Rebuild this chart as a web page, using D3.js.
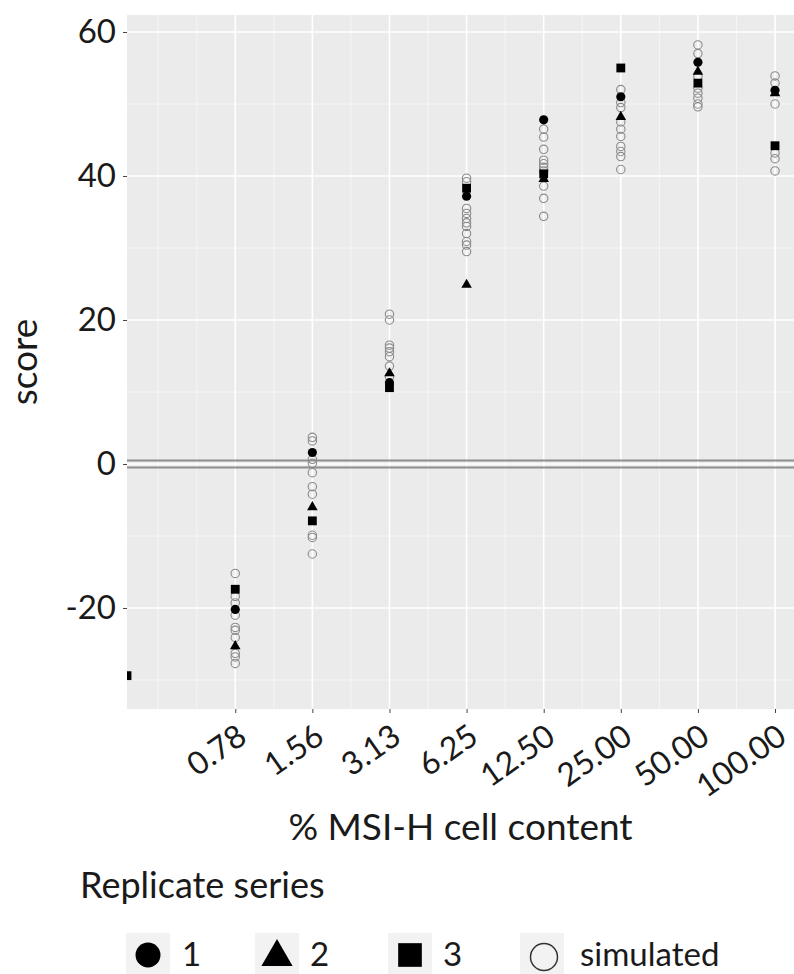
<!DOCTYPE html>
<html>
<head>
<meta charset="utf-8">
<script src="https://cdn.jsdelivr.net/npm/d3@7"></script>
<style>
  body { margin: 0; background: #fff; }
  svg { display: block; }
  text { font-family: Lato, "Open Sans", sans-serif; fill: #1a1a1a; }
</style>
</head>
<body>
<svg id="chart" width="794" height="974"></svg>
<script>
// % MSI-H cell content (x categories, plotted on log2 scale)
const pctLabels = ["0.78", "1.56", "3.13", "6.25", "12.50", "25.00", "50.00", "100.00"];
const pctValues = [0.78125, 1.5625, 3.125, 6.25, 12.5, 25, 50, 100];

// replicate series scores, one per dilution
const rep1 = [-20.2, 1.6, 11.3, 37.2, 47.8, 51.0, 55.8, 51.9];
const rep2 = [-25.3, -6.0, 12.6, 24.9, 39.6, 48.2, 54.5, 51.5];
const rep3 = [-17.4, -7.9, 10.6, 38.3, 40.3, 55.0, 52.9, 44.2];

// 0 % control, only replicate 3 is visible at the left edge
const controlRep3 = -29.4;

// simulated scores per dilution
const simulated = [
  [-15.2, -18.4, -19.3, -21.0, -22.7, -23.1, -24.1, -26.3, -26.8, -27.7],
  [3.7, 3.2, 0.65, 0.1, -1.2, -3.15, -4.2, -9.9, -10.2, -12.5],
  [20.8, 20.0, 16.5, 16.1, 15.6, 14.9, 13.6, 12.1],
  [39.7, 39.2, 35.5, 34.8, 34.1, 33.5, 33.0, 32.0, 30.9, 30.4, 29.5],
  [46.5, 45.4, 43.7, 42.2, 41.7, 41.2, 40.7, 38.6, 36.9, 34.4],
  [52.0, 50.2, 49.5, 47.5, 46.5, 45.5, 44.1, 43.4, 42.7, 40.9],
  [58.2, 57.0, 53.8, 52.2, 51.5, 50.8, 50.0, 49.6],
  [53.9, 52.9, 50.0, 43.2, 42.4, 40.7]
];

const yTicks = [-20, 0, 20, 40, 60];
const yMinor = [-30, -10, 10, 30, 50];
const refLines = [0.5, -0.5];

const legendItems = ["1", "2", "3", "simulated"];

const svg = d3.select("#chart");
const panel = { left: 127, top: 15, right: 794, bottom: 709 };

const lx = pctValues.map(v => Math.log2(v));
const x = d3.scaleLinear().domain([-1.76, 6.89]).range([panel.left, panel.right]);
const y = d3.scaleLinear().domain([-34.03, 62.36]).range([panel.bottom, panel.top]);

svg.append("defs").append("clipPath").attr("id", "panel-clip")
  .append("rect")
  .attr("x", panel.left).attr("y", panel.top)
  .attr("width", panel.right - panel.left).attr("height", panel.bottom - panel.top);

svg.append("rect")
  .attr("x", panel.left).attr("y", panel.top)
  .attr("width", panel.right - panel.left).attr("height", panel.bottom - panel.top)
  .attr("fill", "#ebebeb");

// grid: minor first, like ggplot
const xMinor = d3.range(-1, lx.length).map(i => lx[0] + i + 0.5)
  .concat([lx[0] - 1]).filter(v => v >= x.domain()[0] && v <= x.domain()[1]);

const grid = svg.append("g").attr("clip-path", "url(#panel-clip)");
grid.selectAll(".xminor").data(xMinor).join("line")
  .attr("x1", d => x(d)).attr("x2", d => x(d))
  .attr("y1", panel.top).attr("y2", panel.bottom)
  .attr("stroke", "#f6f6f6").attr("stroke-width", 1);
grid.selectAll(".yminor").data(yMinor).join("line")
  .attr("y1", d => y(d)).attr("y2", d => y(d))
  .attr("x1", panel.left).attr("x2", panel.right)
  .attr("stroke", "#f6f6f6").attr("stroke-width", 1);
grid.selectAll(".xmajor").data(lx).join("line")
  .attr("x1", d => x(d)).attr("x2", d => x(d))
  .attr("y1", panel.top).attr("y2", panel.bottom)
  .attr("stroke", "#ffffff").attr("stroke-width", 1.6);
grid.selectAll(".ymajor").data(yTicks).join("line")
  .attr("y1", d => y(d)).attr("y2", d => y(d))
  .attr("x1", panel.left).attr("x2", panel.right)
  .attr("stroke", "#ffffff").attr("stroke-width", 1.6);

// double reference line around zero
grid.selectAll(".ref").data(refLines).join("line")
  .attr("y1", d => y(d)).attr("y2", d => y(d))
  .attr("x1", panel.left).attr("x2", panel.right)
  .attr("stroke", "#8e8e8e").attr("stroke-width", 2);

// axes
const yAxis = svg.append("g")
  .attr("transform", `translate(${panel.left},0)`)
  .call(d3.axisLeft(y).tickValues(yTicks).tickSize(4).tickPadding(7)
    .tickFormat(d => String(d)));
yAxis.select(".domain").remove();
yAxis.selectAll(".tick line").attr("stroke", "#444");
yAxis.selectAll(".tick text").style("font-size", "33px").attr("fill", "#1a1a1a");

const xAxis = svg.append("g")
  .attr("transform", `translate(0,${panel.bottom})`)
  .call(d3.axisBottom(x).tickValues(lx).tickSize(4).tickFormat((d, i) => pctLabels[i]));
xAxis.select(".domain").remove();
xAxis.selectAll(".tick line").attr("stroke", "#444");
xAxis.selectAll(".tick text")
  .style("font-size", "32px").attr("fill", "#1a1a1a")
  .attr("text-anchor", "end")
  .attr("dy", null)
  .attr("y", 0)
  .attr("transform", "translate(13,32) rotate(-35)");

// points
const pts = svg.append("g").attr("clip-path", "url(#panel-clip)");

const simFlat = simulated.flatMap((col, i) => col.map(v => ({ xv: lx[i], v })));
pts.selectAll(".sim").data(simFlat).join("circle")
  .attr("cx", d => x(d.xv)).attr("cy", d => y(d.v)).attr("r", 4.2)
  .attr("fill", "none").attr("stroke", "#8a8a8a").attr("stroke-width", 1.1);

const shapes = [d3.symbolCircle, d3.symbolTriangle, d3.symbolSquare];
const sizes = [66, 48, 78];
[rep1, rep2, rep3].forEach((rep, k) => {
  const data = rep.map((v, i) => ({ xv: lx[i], v }));
  if (k === 2) data.unshift({ xv: x.domain()[0], v: controlRep3 });
  pts.selectAll(".rep" + k).data(data).join("path")
    .attr("d", d3.symbol().type(shapes[k]).size(sizes[k]))
    .attr("transform", d => `translate(${x(d.xv)},${y(d.v)})`)
    .attr("fill", "#000");
});

// titles
svg.append("text")
  .attr("x", (panel.left + panel.right) / 2).attr("y", 840)
  .attr("text-anchor", "middle").style("font-size", "37px")
  .text("% MSI-H cell content");

svg.append("text")
  .attr("transform", `translate(37,${(panel.top + panel.bottom) / 2}) rotate(-90)`)
  .attr("text-anchor", "middle").style("font-size", "37px")
  .text("score");

// legend
svg.append("text")
  .attr("x", 80).attr("y", 898).style("font-size", "36px")
  .text("Replicate series");

const keyX = [126, 255, 388, 520];
const labelX = [182, 310, 443, 580];
const keyCy = 955;
const leg = svg.append("g");
leg.selectAll(".keybg").data(legendItems).join("rect")
  .attr("x", (d, i) => keyX[i]).attr("y", 933)
  .attr("width", 44).attr("height", 44)
  .attr("fill", "#f2f2f2");

const legSymbols = [d3.symbolCircle, d3.symbolTriangle, d3.symbolSquare];
const legSizes = [490, 420, 560];
legSymbols.forEach((s, i) => {
  leg.append("path")
    .attr("d", d3.symbol().type(s).size(legSizes[i]))
    .attr("transform", `translate(${keyX[i] + 22},${keyCy + (i === 1 ? 2 : 0)})`)
    .attr("fill", "#000");
});
leg.append("circle")
  .attr("cx", keyX[3] + 24).attr("cy", keyCy + 2).attr("r", 13.5)
  .attr("fill", "none").attr("stroke", "#333").attr("stroke-width", 1.5);

leg.selectAll(".lab").data(legendItems).join("text")
  .attr("x", (d, i) => labelX[i]).attr("y", 966)
  .style("font-size", "33px")
  .text(d => d);
</script>
</body>
</html>
